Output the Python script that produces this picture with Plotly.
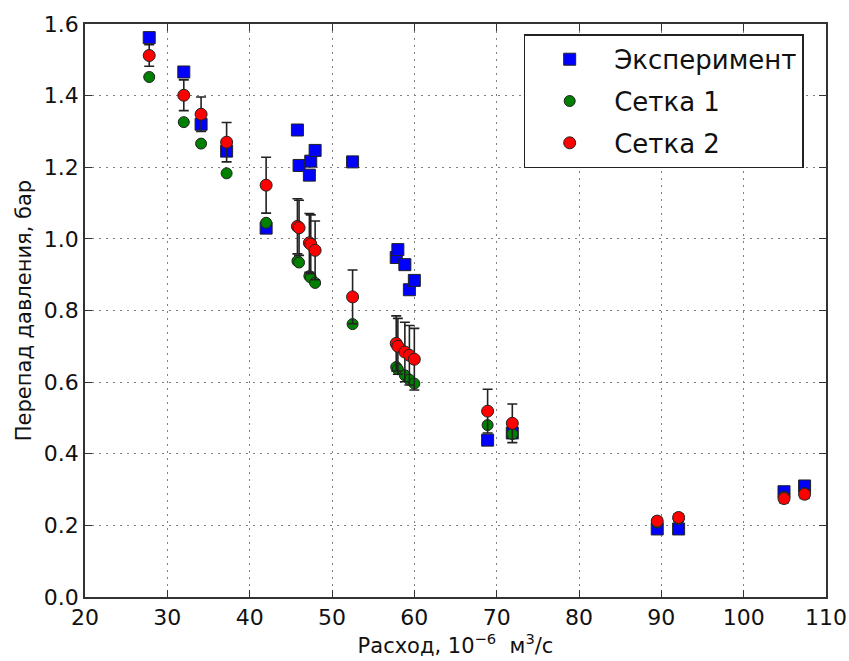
import plotly.graph_objects as go

# Flow rate, 10^-6 m^3/s
flow = [27.8, 32.0, 34.1, 37.2, 42.0,
        45.8, 46.0, 47.25, 47.42, 47.95,
        52.5,
        57.8, 58.0, 58.85, 59.4, 60.0,
        68.9, 71.9, 89.5, 92.1, 104.9, 107.4]

experiment = [1.562, 1.466, 1.320, 1.245, 1.030,
              1.304, 1.205, 1.178, 1.217, 1.247,
              1.215,
              0.948, 0.970, 0.928, 0.858, 0.884,
              0.438, 0.458, 0.190, 0.190, 0.294, 0.310]

grid1 = [1.452, 1.326, 1.266, 1.183, 1.045,
         0.938, 0.934, 0.896, 0.892, 0.877,
         0.762,
         0.642, 0.636, 0.619, 0.607, 0.596,
         0.480, 0.455, 0.208, 0.218, 0.280, 0.290]

grid2 = [1.512, 1.401, 1.348, 1.270, 1.150,
         1.035, 1.031, 0.989, 0.985, 0.968,
         0.838,
         0.708, 0.700, 0.684, 0.675, 0.664,
         0.519, 0.485, 0.212, 0.222, 0.275, 0.287]

grid2_err = [0.030, 0.043, 0.048, 0.055, 0.078,
             0.077, 0.077, 0.082, 0.082, 0.082,
             0.075,
             0.077, 0.078, 0.083, 0.083, 0.086,
             0.061, 0.054, 0.010, 0.010, 0.012, 0.012]

x_ticks = [20, 30, 40, 50, 60, 70, 80, 90, 100, 110]
y_ticks = [0.0, 0.2, 0.4, 0.6, 0.8, 1.0, 1.2, 1.4, 1.6]

FONT = "DejaVu Sans"

fig = go.Figure()
fig.add_trace(go.Scatter(
    x=flow, y=experiment, mode="markers", name="Эксперимент", legendgroup="a",
    marker=dict(symbol="square", size=12, color="#0000ff",
                line=dict(color="#222", width=1)),
))
fig.add_trace(go.Scatter(
    x=flow, y=grid1, mode="markers", name="Сетка 1", legendgroup="b",
    marker=dict(symbol="circle", size=11, color="#008000",
                line=dict(color="#222", width=1)),
))
fig.add_trace(go.Scatter(
    x=flow, y=grid2, mode="markers", name="Сетка 2", legendgroup="c",
    marker=dict(symbol="circle", size=12, color="#ff0000",
                line=dict(color="#222", width=1)),
    error_y=dict(type="data", array=grid2_err, visible=True,
                 color="#222", thickness=1.6, width=5),
))

axis_common = dict(
    showline=True, linecolor="#333", linewidth=1.8, mirror="ticks",
    ticks="inside", ticklen=7, tickwidth=1.2, tickcolor="#333",
    showgrid=True, gridcolor="#808080", griddash="2px,5px", gridwidth=1,
    zeroline=False, automargin=False,
    tickfont=dict(family=FONT, size=22, color="#111"),
)

fig.update_xaxes(range=[20, 110], tickvals=x_ticks,
                 ticktext=[str(v) for v in x_ticks],
                 title=dict(text="Расход, 10<sup>−6</sup>  м<sup>3</sup>/с",
                            font=dict(family=FONT, size=21, color="#111"),
                            standoff=0),
                 **axis_common)
fig.update_yaxes(range=[0, 1.6], tickvals=y_ticks,
                 ticktext=[f"{v:.1f}" for v in y_ticks],
                 title=dict(text="Перепад давления, бар",
                            font=dict(family=FONT, size=21, color="#111"),
                            standoff=6),
                 **axis_common)

fig.update_layout(
    width=849, height=661,
    margin=dict(l=85, r=23, t=24, b=64),
    plot_bgcolor="white", paper_bgcolor="white",
    font=dict(family=FONT, color="#111"),
    legend=dict(
        x=0.592, y=0.982, xanchor="left", yanchor="top",
        bgcolor="white", bordercolor="#222", borderwidth=1.5,
        font=dict(family=FONT, size=26, color="#111"),
        itemwidth=79, traceorder="grouped", tracegroupgap=5,
    ),
)

# remove the default 8px page margin so the figure sits at the window origin
fig.write_html("out.html",
               config={"displayModeBar": False},
               post_script="document.body.style.margin='0';"
                           "document.body.style.overflow='hidden';")
